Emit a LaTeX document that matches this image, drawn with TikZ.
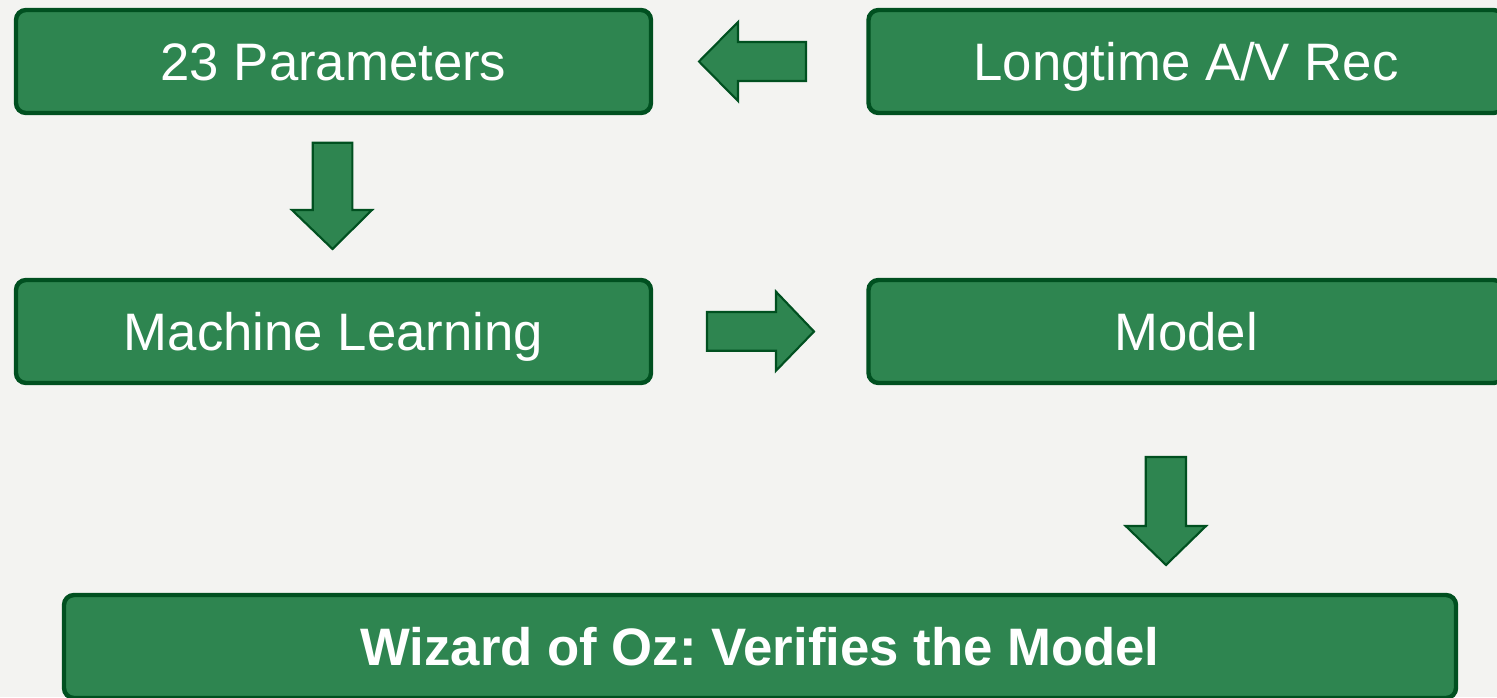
\documentclass[tikz,border=0pt]{standalone}
\usepackage{fontspec}
\setmainfont{Liberation Sans}
\usepackage{tikz}
\usetikzlibrary{positioning}
\frenchspacing
\definecolor{boxgreen}{RGB}{46,133,80}
\definecolor{darkgreen}{RGB}{0,80,32}
\definecolor{paper}{RGB}{243,243,241}
\tikzset{
    step box/.style={
           rectangle,
           rounded corners=0.2cm,
           fill=boxgreen,
           draw=darkgreen, line width=2.5pt,
           minimum width=12.7cm,
           minimum height=2.06cm,
           inner sep=2pt,
           text=white,
           font=\fontsize{30}{36}\selectfont,
           text height=21.5pt, text depth=0pt,
           text centered,
           },
    block arrow/.style={
           fill=boxgreen,
           draw=darkgreen, line width=1.2pt,
           line join=miter,
           },
}
\begin{document}
\begin{tikzpicture}
    % page and background
    \useasboundingbox (0,0) rectangle (29.94,-13.94);
    \fill[paper] (0,0) rectangle (29.94,-13.94);

    % upper row
    \node[step box,
    anchor=center] (params) at (6.67,-1.23)	% first box
    {23 Parameters};

    \node[step box,
    right of=params,
    node distance=17.05cm,
    anchor=center] (rec) 	% recordings
    {Longtime A/V Rec};

    % middle row
    \node[step box,
    below of=params,
    node distance=5.4cm,
    anchor=center] (ml)
    {Machine Learning};

    \node[step box,
    right of=ml,
    node distance=17.05cm,
    anchor=center] (model)
    {Model};

    % bottom box (wide, bold)
    \node[step box,
    minimum width=27.84cm,
    anchor=center] (woz) at (15.2,-12.93)
    {\bfseries Wizard of Oz: Verifies the Model};

    % block arrows between the boxes
    \draw[block arrow] (13.98,-1.23) -- (14.76,-0.44) -- (14.76,-0.84) -- (16.12,-0.84)
        -- (16.12,-1.62) -- (14.76,-1.62) -- (14.76,-2.02) -- cycle;
    \draw[block arrow] (6.65,-4.98) -- (5.84,-4.2) -- (6.254,-4.2) -- (6.254,-2.854)
        -- (7.046,-2.854) -- (7.046,-4.2) -- (7.44,-4.2) -- cycle;
    \draw[block arrow] (16.28,-6.63) -- (15.52,-5.834) -- (15.52,-6.24) -- (14.14,-6.24)
        -- (14.14,-7.014) -- (15.52,-7.014) -- (15.52,-7.414) -- cycle;
    \draw[block arrow] (23.32,-11.3) -- (22.514,-10.52) -- (22.914,-10.52) -- (22.914,-9.14)
        -- (23.72,-9.14) -- (23.72,-10.52) -- (24.12,-10.52) -- cycle;
\end{tikzpicture}
\end{document}
